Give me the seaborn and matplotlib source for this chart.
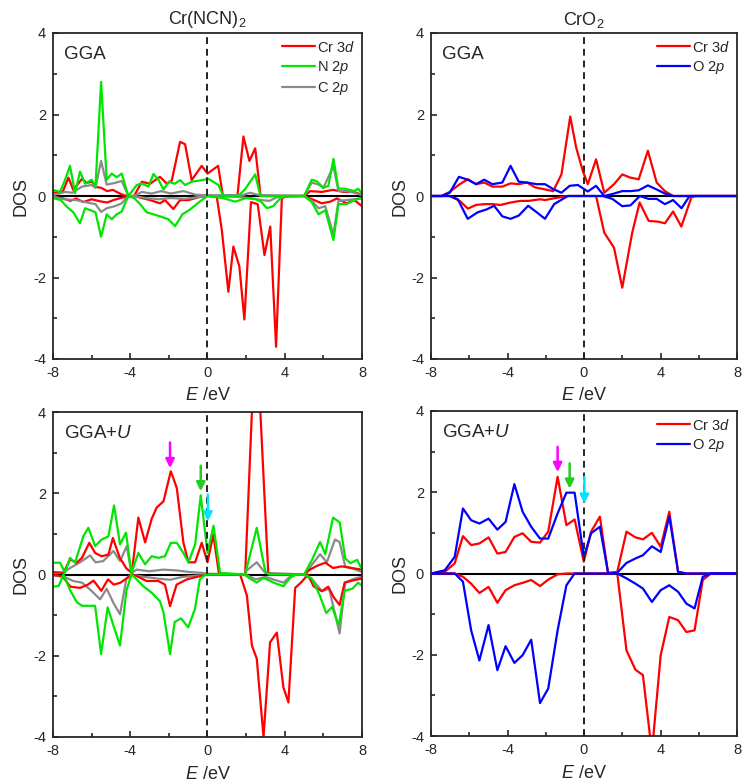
import numpy as np
import pandas as pd
import matplotlib
matplotlib.use("Agg")
import matplotlib.pyplot as plt
from matplotlib.ticker import MultipleLocator
from matplotlib.lines import Line2D
import seaborn as sns

# ---------------- data (E in eV, DOS) ----------------
# Panel (a) Cr(NCN)2, GGA
a_cr_up_e = [-8, -7.5, -7.2, -6.95, -6.5, -6.25, -6.0, -5.75, -5.5, -5.2, -4.9, -4.5, -4.2, -3.8, -3.4, -2.97, -2.46, -2.1, -1.85, -1.42, -1.16, -0.82, -0.3, 0.0, 0.55, 0.8, 1.55, 1.86, 2.17, 2.47, 2.75, 5.0, 5.32, 5.92, 6.5, 7.04, 7.56, 8.0]
a_cr_up = [0.08, 0.1, 0.45, 0.15, 0.42, 0.32, 0.35, 0.22, 0.2, 0.12, 0.15, 0.05, 0.0, 0.0, 0.35, 0.3, 0.47, 0.3, 0.38, 1.33, 1.27, 0.39, 0.74, 0.55, 0.74, 0.0, 0.0, 1.46, 0.86, 1.17, 0.0, 0.0, 0.12, 0.1, 0.15, 0.1, 0.1, 0.03]
a_cr_dn_e = [-8, -7.46, -7.1, -6.8, -6.43, -6.0, -5.56, -5.2, -4.87, -4.5, -4.15, -3.8, -3.32, -2.97, -2.46, -2.2, -1.77, -1.42, -0.98, -0.38, 0.0, 0.48, 0.74, 1.08, 1.34, 1.65, 1.91, 2.25, 2.6, 2.95, 3.25, 3.55, 3.85, 4.2, 5.0, 5.32, 5.92, 6.35, 6.7, 7.2, 7.6, 8.0]
a_cr_dn = [-0.02, -0.06, -0.12, -0.06, -0.15, -0.08, -0.13, -0.16, -0.1, -0.05, -0.02, 0.0, -0.06, -0.1, -0.18, -0.1, -0.32, -0.1, -0.1, -0.02, 0.0, -0.02, -0.83, -2.35, -1.24, -1.73, -3.03, -0.15, -0.2, -1.45, -0.75, -3.7, -0.05, 0.0, 0.0, -0.06, -0.18, -0.14, -0.06, -0.18, -0.1, -0.25]
a_n_up_e = [-8, -7.64, -7.38, -7.12, -6.86, -6.6, -6.34, -6.0, -5.8, -5.51, -5.22, -4.96, -4.7, -4.44, -4.1, -3.66, -3.4, -3.06, -2.8, -2.54, -2.28, -2.0, -1.7, -1.42, -1.16, -0.82, -0.4, 0.05, 0.57, 0.81, 1.6, 1.95, 2.47, 2.74, 5.0, 5.4, 5.66, 6.0, 6.26, 6.52, 6.78, 7.1, 7.6, 7.8, 8.0]
a_n_up = [0.15, 0.1, 0.39, 0.74, 0.07, 0.6, 0.3, 0.4, 0.24, 2.8, 0.4, 0.55, 0.46, 0.55, 0.0, 0.27, 0.31, 0.23, 0.54, 0.4, 0.16, 0.35, 0.3, 0.39, 0.27, 0.35, 0.38, 0.42, 0.27, 0.0, 0.0, 0.17, 0.53, 0.0, 0.0, 0.4, 0.36, 0.2, 0.25, 0.91, 0.18, 0.18, 0.12, 0.18, 0.05]
a_n_dn_e = [-8, -7.6, -7.29, -6.95, -6.6, -6.34, -6.05, -5.8, -5.51, -5.22, -4.96, -4.7, -4.44, -4.1, -3.8, -3.49, -3.15, -2.8, -2.45, -2.03, -1.68, -1.3, -0.9, -0.38, 0.0, 0.8, 1.43, 2.0, 2.5, 2.8, 3.07, 3.4, 3.76, 4.0, 5.0, 5.4, 5.75, 6.1, 6.52, 6.78, 7.2, 7.6, 8.0]
a_n_dn = [-0.05, -0.1, -0.26, -0.4, -0.67, -0.3, -0.35, -0.4, -1.0, -0.45, -0.57, -0.45, -0.38, 0.0, -0.05, -0.2, -0.4, -0.45, -0.5, -0.57, -0.74, -0.45, -0.33, -0.13, 0.0, -0.05, -0.14, -0.05, -0.08, -0.15, -0.3, -0.25, -0.06, 0.0, 0.0, -0.15, -0.45, -0.35, -1.08, -0.2, -0.2, -0.1, -0.05]
a_c_up_e = [-8, -7.38, -7.0, -6.5, -6.0, -5.8, -5.51, -5.22, -4.8, -4.44, -4.1, -3.8, -3.4, -2.9, -2.4, -1.9, -1.25, -0.6, 0.0, 1.8, 2.2, 2.6, 3.0, 5.0, 5.4, 5.75, 6.0, 6.52, 6.78, 7.2, 7.6, 8.0]
a_c_up = [0.02, 0.1, 0.08, 0.23, 0.27, 0.2, 0.86, 0.28, 0.32, 0.37, 0.0, 0.0, 0.1, 0.06, 0.12, 0.06, 0.12, 0.03, 0.02, 0.02, 0.08, 0.03, 0.02, 0.0, 0.33, 0.28, 0.2, 0.73, 0.12, 0.12, 0.08, 0.02]
a_c_dn_e = [-8, -7.4, -6.8, -6.43, -6.0, -5.8, -5.51, -5.22, -4.8, -4.44, -4.1, -3.8, -3.2, -2.5, -1.9, -1.2, -0.5, 0.0, 1.5, 2.2, 2.8, 3.2, 3.6, 5.0, 5.4, 5.75, 6.1, 6.52, 6.78, 7.2, 7.6, 8.0]
a_c_dn = [-0.02, -0.08, -0.1, -0.14, -0.18, -0.2, -0.39, -0.3, -0.25, -0.18, 0.0, 0.0, -0.05, -0.08, -0.05, -0.07, -0.03, 0.0, -0.02, -0.05, -0.1, -0.12, -0.03, 0.0, -0.12, -0.3, -0.25, -0.95, -0.12, -0.1, -0.08, -0.05]

# Panel (b) CrO2, GGA
b_cr_up_e = [-8, -7.45, -7.02, -6.5, -6.07, -5.64, -5.22, -4.79, -4.27, -3.84, -3.41, -2.98, -2.55, -2.12, -1.61, -1.18, -0.72, -0.41, -0.06, 0.2, 0.63, 1.06, 1.57, 2.0, 2.43, 2.86, 3.34, 3.8, 4.23, 4.66, 8.0]
b_cr_up = [0, 0, 0.1, 0.29, 0.41, 0.29, 0.33, 0.23, 0.23, 0.31, 0.29, 0.33, 0.21, 0.17, 0.12, 0.53, 1.95, 1.19, 0.61, 0.29, 0.9, 0.08, 0.29, 0.53, 0.45, 0.41, 1.11, 0.33, 0.12, 0.0, 0.0]
b_o_up_e = [-8, -7.45, -7.02, -6.54, -6.08, -5.64, -5.22, -4.79, -4.27, -3.84, -3.41, -2.98, -2.47, -2.04, -1.61, -1.18, -0.75, -0.32, 0.2, 0.63, 1.06, 1.57, 2.0, 2.43, 2.86, 3.34, 3.8, 4.23, 4.66, 8.0]
b_o_up = [0, 0, 0.08, 0.47, 0.4, 0.29, 0.4, 0.29, 0.33, 0.74, 0.35, 0.33, 0.29, 0.29, 0.17, 0.08, 0.25, 0.27, 0.11, 0.25, 0.0, 0.06, 0.12, 0.12, 0.14, 0.26, 0.16, 0.06, 0.0, 0.0]
b_cr_dn_e = [-8, -7.02, -6.5, -6.07, -5.65, -5.22, -4.79, -4.36, -3.84, -3.33, -2.9, -2.3, -2.04, -1.61, -0.85, 0.63, 1.06, 1.57, 2.0, 2.52, 2.91, 3.38, 3.88, 4.23, 4.66, 5.09, 5.61, 5.8, 8.0]
b_cr_dn = [0, 0, -0.12, -0.31, -0.22, -0.2, -0.2, -0.22, -0.16, -0.12, -0.12, -0.08, -0.1, -0.06, 0.0, 0.0, -0.9, -1.27, -2.25, -0.9, -0.16, -0.61, -0.63, -0.67, -0.38, -0.75, -0.04, 0.0, 0.0]
b_o_dn_e = [-8, -7.02, -6.6, -6.08, -5.56, -5.1, -4.7, -4.27, -3.84, -3.41, -2.92, -2.47, -2.04, -1.56, -0.85, 0.97, 1.48, 2.0, 2.43, 2.92, 3.37, 3.8, 4.23, 4.66, 5.1, 5.52, 8.0]
b_o_dn = [0, 0, -0.08, -0.56, -0.4, -0.33, -0.24, -0.5, -0.56, -0.48, -0.24, -0.4, -0.56, -0.2, 0.0, 0.0, -0.07, -0.25, -0.23, 0.0, -0.07, -0.07, -0.2, -0.1, -0.3, 0.0, 0.0]

# Panel (c) Cr(NCN)2, GGA+U
c_cr_up_e = [-8, -7.46, -7.12, -6.77, -6.5, -6.12, -5.82, -5.48, -5.13, -4.9, -4.55, -4.2, -3.92, -3.58, -3.23, -2.89, -2.63, -2.28, -1.9, -1.59, -1.25, -0.99, -0.64, -0.3, 0.0, 0.3, 0.6, 1.95, 2.5, 3.15, 5.0, 5.3, 5.7, 6.1, 6.5, 6.95, 7.45, 8.0]
c_cr_up = [0.06, 0.04, 0.37, 0.29, 0.41, 0.78, 0.53, 0.45, 0.49, 0.9, 0.42, 0.15, 0.04, 1.4, 0.79, 1.37, 1.65, 1.8, 2.54, 2.13, 0.79, 0.3, 0.3, 0.78, 0.3, 0.98, 0.0, 0.0, 6.3, 0.0, 0.0, 0.12, 0.22, 0.29, 0.16, 0.2, 0.16, 0.12]
c_cr_dn_e = [-8, -7.5, -7.1, -6.6, -6.2, -5.9, -5.5, -5.15, -4.85, -4.5, -4.2, -3.9, -3.66, -3.15, -2.54, -2.2, -1.94, -1.6, -1.07, -0.56, 0.0, 1.69, 2.04, 2.3, 2.55, 2.9, 3.24, 3.59, 3.93, 4.19, 4.54, 4.88, 5.2, 5.49, 5.92, 6.25, 6.52, 6.84, 7.1, 7.5, 8.0]
c_cr_dn = [0, -0.05, -0.3, -0.33, -0.25, -0.15, -0.4, -0.12, -0.25, -0.2, -0.1, 0.0, -0.04, -0.16, -0.16, -0.25, -0.78, -0.25, -0.12, -0.06, 0.0, 0.0, -0.52, -1.75, -2.07, -4.0, -1.67, -1.43, -2.78, -3.15, -0.33, -0.18, 0.0, -0.29, -0.41, -0.3, -0.55, -0.75, -0.2, -0.15, -0.1]
c_n_up_e = [-8, -7.63, -7.38, -7.12, -6.86, -6.43, -6.17, -5.82, -5.48, -5.13, -4.84, -4.53, -4.22, -3.94, -3.58, -3.23, -2.89, -2.54, -2.2, -1.9, -1.59, -1.25, -0.99, -0.64, -0.35, 0.0, 0.31, 0.65, 1.95, 2.55, 2.99, 3.2, 5.0, 5.4, 5.83, 6.1, 6.5, 6.85, 7.13, 7.4, 7.75, 8.0]
c_n_up = [0.29, 0.29, 0.04, 0.41, 0.29, 0.94, 1.15, 0.7, 0.86, 0.94, 1.7, 0.74, 1.03, 0.04, 0.53, 0.25, 0.45, 0.41, 0.45, 0.78, 0.78, 0.53, 0.3, 0.74, 1.95, 0.53, 1.2, 0.04, 0.0, 1.15, 0.08, 0.0, 0.0, 0.35, 0.8, 0.5, 1.4, 1.28, 0.4, 0.28, 0.36, 0.12]
c_n_dn_e = [-8, -7.7, -7.46, -7.1, -6.77, -6.5, -5.82, -5.51, -5.17, -4.84, -4.53, -4.2, -3.94, -3.75, -3.32, -2.89, -2.46, -2.28, -1.94, -1.7, -1.37, -1.0, -0.65, -0.4, -0.1, 1.9, 2.2, 2.55, 2.9, 3.42, 3.93, 4.28, 4.6, 5.0, 5.4, 5.8, 6.15, 6.45, 6.8, 7.1, 7.5, 7.8, 8.0]
c_n_dn = [-0.3, -0.28, 0.0, -0.4, -0.68, -0.77, -0.77, -1.96, -0.81, -1.3, -1.75, -0.4, 0.0, -0.08, -0.29, -0.45, -0.66, -0.93, -1.96, -1.17, -1.08, -1.3, -0.85, -0.12, 0.0, 0.0, -0.1, -0.2, -0.08, -0.2, -0.29, -0.08, 0.0, 0.0, -0.1, -0.5, -0.95, -0.8, -1.25, -0.4, -0.35, -0.2, -0.28]
c_c_up_e = [-8, -7.5, -7.12, -6.6, -6.08, -5.8, -5.4, -4.87, -4.53, -4.18, -3.94, -3.66, -3.0, -2.3, -1.6, -0.9, -0.3, 0.0, 1.95, 2.03, 2.55, 2.99, 5.0, 5.49, 5.83, 6.18, 6.6, 6.84, 7.13, 7.5, 8.0]
c_c_up = [0.04, 0.04, 0.16, 0.3, 0.47, 0.3, 0.33, 0.58, 0.33, 0.7, 0.04, 0.12, 0.08, 0.12, 0.1, 0.06, 0.04, 0.02, 0.0, 0.1, 0.3, 0.04, 0.0, 0.29, 0.5, 0.3, 0.86, 0.8, 0.2, 0.15, 0.06]
c_c_dn_e = [-8, -7.46, -6.95, -6.5, -6.08, -5.56, -5.22, -4.87, -4.53, -4.2, -3.94, -3.4, -2.6, -1.94, -1.3, -0.6, 0.0, 1.95, 2.5, 3.0, 3.93, 4.4, 5.0, 5.49, 5.92, 6.3, 6.84, 7.13, 7.5, 8.0]
c_c_dn = [-0.03, -0.05, -0.16, -0.2, -0.37, -0.61, -0.35, -0.7, -0.98, -0.1, 0.0, -0.05, -0.1, -0.13, -0.06, -0.03, 0.0, 0.0, -0.12, -0.06, -0.2, 0.0, 0.0, -0.16, -0.41, -0.35, -1.45, -0.2, -0.12, -0.05]

# Panel (d) CrO2, GGA+U
d_grid = [-8, -7.28, -6.76, -6.33, -5.9, -5.47, -4.99, -4.53, -4.1, -3.64, -3.21, -2.76, -2.3, -1.87, -1.38, -0.92, -0.49, -0.01, 0.37, 0.83, 1.26, 1.74, 2.22, 2.69, 3.08, 3.55, 4.01, 4.46, 4.92, 5.35, 5.78, 6.21, 6.64, 8.0]
d_cr_up = [0, 0.04, 0.25, 0.92, 0.7, 0.74, 0.89, 0.49, 0.53, 0.9, 0.99, 0.78, 0.76, 1.03, 2.38, 1.19, 1.33, 0.29, 1.03, 1.4, 0.0, 0.04, 1.03, 0.89, 0.84, 1.0, 0.66, 1.52, 0.04, 0.0, 0.0, 0.0, 0.0, 0.0]
d_o_up = [0, 0.08, 0.41, 1.6, 1.31, 1.23, 1.35, 1.08, 1.27, 2.2, 1.52, 1.15, 0.86, 0.86, 1.48, 1.99, 1.99, 0.41, 0.99, 1.15, 0.02, 0.02, 0.26, 0.37, 0.45, 0.67, 0.53, 1.4, 0.04, 0.0, 0.0, 0.0, 0.0, 0.0]
d_cr_dn = [0, 0, 0, -0.08, -0.25, -0.48, -0.33, -0.72, -0.41, -0.29, -0.23, -0.16, -0.31, -0.15, -0.02, 0.0, 0.0, 0.0, 0.0, 0.0, 0.0, 0.0, -1.89, -2.37, -2.5, -4.4, -2.01, -1.07, -1.15, -1.44, -1.4, -0.16, 0.0, 0.0]
d_o_dn = [0, 0, 0, -0.2, -1.4, -2.14, -1.27, -2.38, -1.79, -2.2, -2.01, -1.63, -3.19, -2.83, -1.4, -0.29, 0.0, 0.0, 0.0, 0.0, 0.0, 0.0, -0.12, -0.25, -0.37, -0.7, -0.41, -0.29, -0.45, -0.74, -0.86, -0.08, 0.0, 0.0]

# arrow markers (E, DOS start, DOS end)
c_arrows = [(-1.94, 3.25, 2.62, "#ff00ff"), (-0.35, 2.68, 2.05, "#22cc22"), (0.02, 1.97, 1.31, "#00e5ff")]
d_arrows = [(-1.38, 3.12, 2.50, "#ff00ff"), (-0.75, 2.71, 2.09, "#22cc22"), (0.02, 2.38, 1.72, "#00e5ff")]

# ---------------- style ----------------
sns.set_style("ticks")
plt.rcParams["font.family"] = ["Liberation Sans", "DejaVu Sans"]
plt.rcParams["mathtext.fontset"] = "custom"
plt.rcParams["mathtext.rm"] = "Liberation Sans"
plt.rcParams["mathtext.it"] = "Liberation Sans:italic"
plt.rcParams["axes.unicode_minus"] = False

RED, GREEN, GRAY, BLUE = "#ff0000", "#00e600", "#8a8a8a", "#0000ff"
LW = 1.6

fig = plt.figure(figsize=(7.43, 7.82), dpi=100)
W, H = 743, 782

def ax_at(l, t, r, b):
    return fig.add_axes([l / W, 1 - b / H, (r - l) / W, (b - t) / H])

axA = ax_at(53, 33, 362, 359)
axB = ax_at(431, 33, 737, 359)
axC = ax_at(53, 412, 362, 737)
axD = ax_at(431, 411, 737, 736)

def draw(ax, e, v, color):
    sns.lineplot(x=e, y=v, ax=ax, color=color, lw=LW, legend=False, zorder=2)

def style(ax, label_text, legend_items, xlab_y):
    ax.set_xlim(-8, 8)
    ax.set_ylim(-4, 4)
    ax.axhline(0, color="black", lw=1.5, zorder=1.5)
    ax.axvline(0, color="#222222", lw=1.4, ls=(0, (3.5, 2.5)), zorder=3)
    ax.xaxis.set_major_locator(MultipleLocator(4))
    ax.xaxis.set_minor_locator(MultipleLocator(2))
    ax.yaxis.set_major_locator(MultipleLocator(2))
    ax.yaxis.set_minor_locator(MultipleLocator(1))
    ax.tick_params(which="both", direction="in", top=False, right=False, labelsize=10.5, width=1.2)
    ax.tick_params(which="major", length=4, pad=5)
    ax.tick_params(which="minor", length=3)
    for s in ax.spines.values():
        s.set_linewidth(1.3)
        s.set_visible(True)
    ax.set_ylabel("DOS", fontsize=13)
    ax.yaxis.set_label_coords(-0.075, 0.5)
    ax.set_xlabel(r"$E$ /eV", fontsize=13)
    ax.xaxis.set_label_coords(0.5, xlab_y)
    ax.text(0.035, 0.935, label_text, transform=ax.transAxes, fontsize=13.5, va="center", ha="left")
    if legend_items:
        handles = [Line2D([], [], color=c, lw=LW) for _, c in legend_items]
        labels = [t for t, _ in legend_items]
        ax.legend(handles, labels, loc="upper right", frameon=False, fontsize=10.5,
                  handlelength=2.3, handletextpad=0.15, labelspacing=0.3,
                  borderaxespad=0.25, borderpad=0.2)

# Panel A
for e, v, c in [(a_cr_up_e, a_cr_up, RED), (a_cr_dn_e, a_cr_dn, RED),
                (a_c_up_e, a_c_up, GRAY), (a_c_dn_e, a_c_dn, GRAY),
                (a_n_up_e, a_n_up, GREEN), (a_n_dn_e, a_n_dn, GREEN)]:
    draw(axA, e, v, c)
style(axA, "GGA", [("Cr 3$d$", RED), ("N 2$p$", GREEN), ("C 2$p$", GRAY)], -0.086)

# Panel B
for e, v, c in [(b_cr_up_e, b_cr_up, RED), (b_cr_dn_e, b_cr_dn, RED),
                (b_o_up_e, b_o_up, BLUE), (b_o_dn_e, b_o_dn, BLUE)]:
    draw(axB, e, v, c)
style(axB, "GGA", [("Cr 3$d$", RED), ("O 2$p$", BLUE)], -0.086)

# Panel C
for e, v, c in [(c_c_up_e, c_c_up, GRAY), (c_c_dn_e, c_c_dn, GRAY),
                (c_cr_up_e, c_cr_up, RED), (c_cr_dn_e, c_cr_dn, RED),
                (c_n_up_e, c_n_up, GREEN), (c_n_dn_e, c_n_dn, GREEN)]:
    draw(axC, e, v, c)
style(axC, "GGA+$U$", [], -0.089)

# Panel D
for e, v, c in [(d_grid, d_cr_up, RED), (d_grid, d_cr_dn, RED),
                (d_grid, d_o_up, BLUE), (d_grid, d_o_dn, BLUE)]:
    draw(axD, e, v, c)
style(axD, "GGA+$U$", [("Cr 3$d$", RED), ("O 2$p$", BLUE)], -0.089)

for ax, arrows in [(axC, c_arrows), (axD, d_arrows)]:
    for x, y0, y1, col in arrows:
        ax.annotate("", xy=(x, y1), xytext=(x, y0),
                    arrowprops=dict(arrowstyle="-|>", color=col, lw=1.8, mutation_scale=13,
                                    shrinkA=0, shrinkB=0), zorder=4)

# column titles
fig.text((53 + 362) / 2 / W, 1 - 20 / H, "Cr(NCN)$_2$", ha="center", va="center", fontsize=13)
fig.text((431 + 737) / 2 / W, 1 - 20 / H, "CrO$_2$", ha="center", va="center", fontsize=13)

fig.savefig("out.png", dpi=100)
